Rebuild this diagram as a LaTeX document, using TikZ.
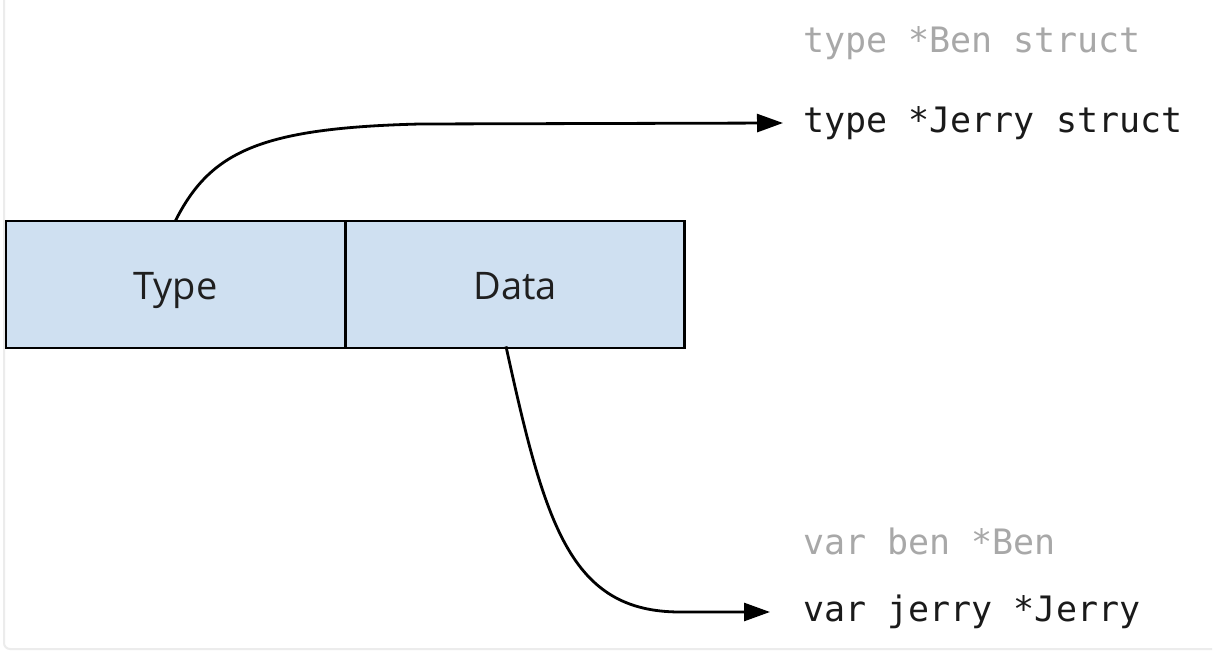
\documentclass[tikz,border=0pt]{standalone}
\usepackage{fontspec}
\setmainfont{Open Sans}
\newfontfamily\codefont{DejaVu Sans Mono}
\usetikzlibrary{arrows.meta}
\definecolor{cellblue}{HTML}{CFE0F1}
\definecolor{codegray}{HTML}{A8A8A8}
\definecolor{codeblack}{HTML}{1A1A1A}
\definecolor{framegray}{HTML}{ECECEC}
\tikzset{
  cell/.style={draw=black, line width=2.8pt, fill=cellblue, minimum width=339pt,
    minimum height=127pt, inner sep=0pt, text height=31pt, text depth=0pt,
    font=\fontsize{38}{40}\selectfont, text=black!88},
  code/.style={anchor=base west, inner sep=0pt, font=\codefont\fontsize{35}{38}\selectfont},
  oldcode/.style={code, text=codegray},
  newcode/.style={code, text=codeblack},
  link/.style={line width=2.8pt, -{Triangle[length=26pt, width=18pt]}},
}
\begin{document}
\begin{tikzpicture}[x=1pt, y=-1pt]
  \useasboundingbox (0,0) rectangle (1218,652);
  \fill[white] (0,0) rectangle (1218,652);
  % faint frame along the left and bottom edges
  \draw[framegray, line width=2pt, rounded corners=6pt] (4,0) -- (4,649) -- (1212,649);

  % the two-word interface value
  \node[cell] (type) at (175.5,284.5) {Type};
  \node[cell] (data) at (515,284.5) {Data};

  % what the words point to
  \node[oldcode] (benT) at (803,53) {type *Ben struct};
  \node[newcode] (jerryT) at (803,133) {type *Jerry struct};
  \node[oldcode] (benV) at (803,554) {var ben *Ben};
  \node[newcode] (jerryV) at (803,621) {var jerry *Jerry};

  \coordinate (typeEnd) at ([xshift=-20pt, yshift=10pt]jerryT.base west);
  \coordinate (dataEnd) at ([xshift=-33pt, yshift=9pt]jerryV.base west);

  \draw[link] ([yshift=-1pt]type.north) .. controls +(35,-69) and (260,128) .. (420,124) -- (typeEnd);
  \draw[link] ([xshift=-9pt, yshift=3pt]data.south) .. controls +(39,178) and (570,612) .. (680,612) -- (dataEnd);
\end{tikzpicture}
\end{document}
